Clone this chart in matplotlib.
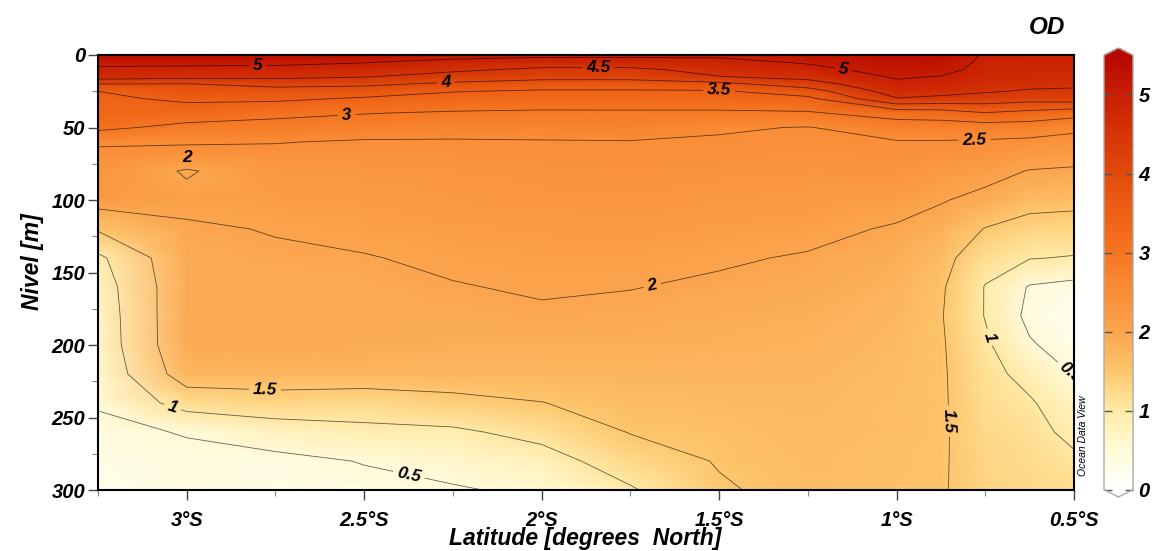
import numpy as np
import matplotlib
matplotlib.use('Agg')
import matplotlib.pyplot as plt
from matplotlib.colors import LinearSegmentedColormap
from matplotlib.ticker import FixedLocator, MultipleLocator

plt.rcParams['font.family'] = ['Liberation Sans', 'DejaVu Sans']
plt.rcParams['font.weight'] = 'bold'
plt.rcParams['font.style'] = 'italic'

# ---------------- data (read from the section) ----------------
depth = [0, 5, 10, 15, 20, 25, 30, 40, 50, 60, 70, 80, 100, 120, 140,
         160, 180, 200, 220, 240, 260, 280, 300]
latitudes = [-3.25, -3.0, -2.75, -2.5, -2.25, -2.0, -1.75, -1.5, -1.25,
             -1.0, -0.875, -0.75, -0.625, -0.5]

od_s3250 = [5.40, 5.15, 4.90, 4.75, 4.00, 3.50, 3.42, 3.35, 3.12, 2.55, 2.40, 2.32, 2.20,
            1.55, 0.90, 0.75, 0.70, 0.68, 0.62, 0.53, 0.42, 0.32, 0.25]
od_s3000 = [5.45, 5.15, 4.85, 4.65, 3.98, 3.75, 3.58, 3.30, 2.85, 2.55, 2.30, 1.96, 2.10,
            1.95, 1.90, 1.88, 1.90, 1.90, 1.75, 1.20, 0.52, 0.42, 0.35]
od_s2750 = [5.40, 5.12, 4.85, 4.62, 4.15, 3.80, 3.60, 3.10, 2.85, 2.52, 2.35, 2.25, 2.15,
            2.02, 1.95, 1.92, 1.92, 1.90, 1.75, 1.30, 0.75, 0.38, 0.30]
od_s2500 = [5.35, 5.02, 4.80, 4.52, 4.10, 3.75, 3.45, 3.02, 2.75, 2.45, 2.35, 2.28, 2.20,
            2.10, 1.98, 1.92, 1.90, 1.88, 1.75, 1.25, 0.88, 0.52, 0.38]
od_s2250 = [5.20, 4.85, 4.60, 4.30, 3.90, 3.52, 3.35, 2.95, 2.70, 2.45, 2.38, 2.32, 2.25,
            2.15, 2.07, 1.98, 1.90, 1.85, 1.72, 1.38, 0.92, 0.62, 0.47]
od_s2000 = [5.10, 4.80, 4.40, 4.20, 3.72, 3.45, 3.30, 2.92, 2.68, 2.47, 2.40, 2.35, 2.28,
            2.20, 2.12, 2.04, 1.95, 1.85, 1.72, 1.49, 1.15, 0.80, 0.56]
od_s1750 = [5.08, 4.85, 4.38, 4.20, 3.72, 3.45, 3.32, 2.92, 2.70, 2.48, 2.42, 2.38, 2.30,
            2.22, 2.12, 2.01, 1.92, 1.85, 1.75, 1.65, 1.52, 1.25, 0.95]
od_s1500 = [5.10, 4.85, 4.70, 4.48, 3.85, 3.45, 3.32, 2.92, 2.55, 2.45, 2.40, 2.35, 2.25,
            2.15, 2.04, 1.95, 1.87, 1.82, 1.75, 1.68, 1.60, 1.53, 1.45]
od_s1250 = [5.20, 5.05, 4.85, 4.65, 4.28, 3.75, 3.40, 2.95, 2.48, 2.40, 2.36, 2.32, 2.22,
            2.10, 1.97, 1.90, 1.83, 1.78, 1.73, 1.70, 1.68, 1.66, 1.64]
od_s1000 = [5.35, 5.30, 5.20, 5.05, 4.90, 4.75, 4.48, 3.20, 2.75, 2.47, 2.40, 2.33, 2.15,
            1.96, 1.85, 1.78, 1.72, 1.68, 1.65, 1.63, 1.62, 1.60, 1.58]
od_s0875 = [5.30, 5.25, 5.15, 4.98, 4.85, 4.65, 4.40, 3.25, 2.75, 2.47, 2.35, 2.22, 2.03,
            1.82, 1.66, 1.56, 1.53, 1.55, 1.56, 1.56, 1.56, 1.55, 1.54]
od_s0750 = [4.95, 4.90, 4.85, 4.80, 4.70, 4.55, 4.30, 3.48, 2.75, 2.45, 2.30, 2.15, 1.88,
            1.48, 1.18, 0.98, 0.98, 1.08, 1.15, 1.20, 1.25, 1.28, 1.30]
od_s0625 = [4.92, 4.88, 4.82, 4.75, 4.62, 4.45, 4.20, 3.35, 2.75, 2.40, 2.20, 1.98, 1.66,
            1.32, 1.02, 0.46, 0.38, 0.55, 0.85, 1.05, 1.15, 1.22, 1.25]
od_s0500 = [4.90, 4.88, 4.82, 4.75, 4.62, 4.40, 4.25, 3.20, 2.60, 2.35, 2.12, 1.95, 1.62,
            1.30, 0.97, 0.35, 0.22, 0.28, 0.48, 0.72, 0.88, 1.08, 1.20]

contour_levels = [0.5, 1.0, 1.5, 2.0, 2.5, 3.0, 3.5, 4.0, 4.5, 5.0]
cbar_ticks = [0, 1, 2, 3, 4, 5]
lat_tick_values = [-3.0, -2.5, -2.0, -1.5, -1.0, -0.5]
lat_tick_labels = ['3°S', '2.5°S', '2°S', '1.5°S', '1°S', '0.5°S']
depth_ticks = [0, 50, 100, 150, 200, 250, 300]

# contour label anchor points (lat, depth)
label_points = [(-2.80, 7), (-1.84, 7), (-2.27, 18.6), (-1.50, 24), (-2.55, 39),
                (-1.15, 10), (-0.78, 59), (-1.69, 157), (-2.78, 234), (-3.04, 243),
                (-2.37, 285), (-0.822, 252), (-0.729, 194), (-0.515, 220)]

Z = np.column_stack([od_s3250, od_s3000, od_s2750, od_s2500, od_s2250, od_s2000,
                     od_s1750, od_s1500, od_s1250, od_s1000, od_s0875, od_s0750,
                     od_s0625, od_s0500])

# ---------------- figure ----------------
W, H = 1152, 551
fig = plt.figure(figsize=(W / 100, H / 100), dpi=100)
ax = fig.add_axes([98 / W, 1 - 490 / H, 976 / W, 435 / H])

nodes = [(0.0, '#ffffff'), (0.5, '#fffbd8'), (1.0, '#ffeba6'), (1.5, '#fdc66c'),
         (2.0, '#fba54e'), (2.5, '#f98d36'), (3.0, '#f57621'), (3.5, '#ee6115'),
         (4.0, '#e24b0c'), (4.5, '#d63507'), (5.0, '#c81f02'), (5.5, '#b80800')]
cmap = LinearSegmentedColormap.from_list('odv', [(v / 5.5, c) for v, c in nodes], N=512)

mesh = ax.pcolormesh(latitudes, depth, Z, shading='gouraud', cmap=cmap, vmin=0, vmax=5.5)
cs = ax.contour(latitudes, depth, Z, levels=contour_levels, colors='k',
                linewidths=0.6, alpha=0.6)

ax.set_xlim(-3.25, -0.5)
ax.set_ylim(300, 0)

def fmt(v):
    return ('%.1f' % v).rstrip('0').rstrip('.')

labels = ax.clabel(cs, manual=label_points, fmt=fmt, fontsize=12.5, inline=True,
                   inline_spacing=4)
for t in labels:
    t.set_color('black')
    t.set_clip_box(ax.bbox)
    t.set_clip_on(True)
# label of the small closed 2-isoline
ax.text(-3.0, 71, '2', fontsize=12.5, ha='center', va='center')

# axes styling
for s in ax.spines.values():
    s.set_linewidth(1.5)
ax.xaxis.set_major_locator(FixedLocator(lat_tick_values))
ax.set_xticklabels(lat_tick_labels)
ax.xaxis.set_minor_locator(MultipleLocator(0.25))
ax.yaxis.set_major_locator(FixedLocator(depth_ticks))
ax.yaxis.set_minor_locator(MultipleLocator(25))
ax.tick_params(axis='both', which='major', labelsize=14.5, length=7, width=1.0,
               direction='out', color='#444444')
ax.tick_params(axis='both', which='minor', length=4, width=0.8, direction='out',
               color='#888888')
ax.tick_params(axis='x', which='major', pad=8)
ax.tick_params(axis='y', which='major', pad=2)

fig.text(585 / W, 1 - 539 / H, 'Latitude [degrees  North]', fontsize=16.5,
         ha='center', va='center')
fig.text(33 / W, 1 - 262 / H, 'Nivel [m]', fontsize=16.5, rotation=90,
         ha='center', va='center')
fig.text(1047 / W, 1 - 28 / H, 'OD', fontsize=17.5, ha='center', va='center')
fig.text(1083 / W, 1 - 436 / H, 'Ocean Data View', fontsize=7.5, rotation=90,
         ha='center', va='center', weight='normal')

# colorbar
cax = fig.add_axes([1104 / W, 1 - 497 / H, 29 / W, 449 / H])
cb = fig.colorbar(mesh, cax=cax, extend='both', extendfrac=0.017, ticks=cbar_ticks)
cb.outline.set_edgecolor('#aaaaaa')
cb.outline.set_linewidth(1.0)
cax.tick_params(direction='in', left=True, right=True, length=6, width=1.0,
                color='#555555', labelsize=14.5, pad=4)
cax.minorticks_off()

fig.savefig('out.png', dpi=100)
